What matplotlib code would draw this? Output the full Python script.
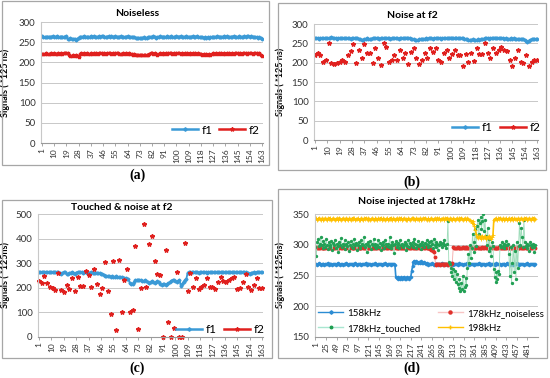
import numpy as np
import matplotlib.pyplot as plt
from matplotlib.patches import Rectangle
from matplotlib.lines import Line2D

plt.rcParams['font.family'] = ['Lato', 'DejaVu Sans']

# ---------------- data ----------------
x163 = np.arange(1, 164)          # sample index, panels a-c
x_odd = np.arange(1, 164, 2)      # every other sample (scattered f2)
x_d = np.arange(1, 500, 2)        # sample index, panel d

a_f1 = [265, 263, 262, 263, 264, 264, 263, 264, 265, 264,
        264, 265, 264, 263, 264, 264, 263, 264, 265, 258,
        259, 260, 258, 257, 259, 256, 258, 261, 264, 263,
        264, 265, 263, 264, 264, 263, 265, 264, 265, 264,
        263, 264, 265, 264, 266, 265, 264, 263, 264, 265,
        264, 265, 264, 264, 265, 264, 263, 264, 265, 264,
        264, 263, 264, 265, 264, 263, 264, 263, 262, 261,
        260, 261, 261, 260, 261, 262, 261, 261, 262, 263,
        264, 262, 265, 264, 261, 262, 264, 265, 263, 264,
        264, 263, 265, 264, 264, 265, 264, 263, 264, 265,
        264, 264, 265, 264, 263, 264, 265, 264, 264, 263,
        264, 265, 264, 264, 265, 264, 263, 262, 263, 261,
        262, 261, 262, 261, 262, 263, 264, 263, 264, 265,
        264, 264, 263, 264, 265, 264, 265, 264, 263, 264,
        264, 265, 264, 264, 263, 265, 264, 264, 263, 265,
        264, 265, 266, 264, 265, 263, 264, 262, 263, 261,
        262, 260, 258]
a_f2 = [221, 220, 221, 222, 221, 220, 221, 222, 221, 222,
        221, 220, 222, 221, 222, 221, 222, 223, 222, 223,
        217, 215, 216, 217, 216, 217, 215, 214, 220, 222,
        221, 222, 221, 222, 221, 220, 222, 221, 222, 221,
        222, 221, 222, 223, 222, 221, 222, 221, 222, 223,
        222, 221, 222, 221, 222, 223, 222, 221, 220, 221,
        222, 221, 222, 221, 222, 221, 220, 219, 220, 218,
        217, 218, 219, 218, 217, 218, 219, 218, 219, 220,
        222, 224, 221, 222, 221, 219, 220, 222, 221, 222,
        221, 222, 221, 222, 223, 222, 221, 222, 221, 222,
        223, 222, 221, 222, 221, 222, 221, 222, 221, 222,
        221, 222, 221, 222, 221, 222, 221, 220, 219, 220,
        219, 220, 219, 220, 219, 220, 222, 221, 222, 221,
        222, 221, 222, 221, 222, 221, 222, 221, 222, 221,
        222, 221, 222, 223, 222, 221, 222, 221, 222, 223,
        222, 221, 222, 223, 222, 221, 222, 223, 222, 221,
        222, 219, 215]

b_f1 = [263, 264, 263, 262, 263, 264, 263, 264, 263, 264,
        263, 264, 266, 265, 264, 263, 262, 263, 264, 263,
        264, 263, 264, 263, 264, 263, 262, 263, 264, 263,
        264, 263, 262, 261, 259, 258, 260, 262, 263, 262,
        261, 262, 263, 264, 263, 264, 263, 262, 263, 264,
        263, 264, 263, 264, 263, 262, 263, 264, 263, 264,
        263, 262, 264, 263, 264, 263, 264, 265, 264, 263,
        262, 261, 260, 259, 258, 259, 260, 261, 262, 261,
        262, 263, 262, 263, 264, 263, 262, 263, 264, 263,
        264, 263, 262, 263, 264, 263, 264, 263, 264, 265,
        264, 263, 264, 265, 264, 263, 264, 263, 264, 262,
        261, 260, 259, 258, 259, 260, 259, 258, 259, 260,
        259, 260, 261, 262, 263, 264, 263, 262, 264, 263,
        264, 265, 264, 263, 264, 263, 264, 263, 262, 263,
        262, 261, 262, 263, 262, 263, 262, 261, 262, 261,
        262, 261, 260, 258, 256, 254, 257, 259, 260, 261,
        262, 261, 262]
b_f2 = [220, 224, 220, 202, 208, 252, 198, 197, 198, 202,
        207, 202, 220, 231, 247, 198, 234, 211, 249, 224,
        224, 200, 237, 213, 194, 252, 241, 201, 207, 220,
        208, 232, 212, 224, 197, 228, 239, 213, 197, 207,
        226, 212, 237, 228, 239, 207, 202, 226, 234, 212,
        222, 232, 220, 220, 192, 222, 202, 224, 205, 237,
        222, 222, 250, 224, 213, 237, 226, 234, 241, 234,
        231, 208, 192, 211, 234, 202, 198, 220, 192, 202,
        208, 207]

c_f1 = [263, 264, 263, 264, 263, 264, 263, 264, 263, 264,
        263, 264, 263, 264, 263, 262, 255, 260, 264, 263,
        256, 255, 260, 262, 263, 262, 258, 262, 264, 263,
        264, 263, 262, 264, 263, 262, 261, 262, 263, 262,
        262, 261, 262, 260, 259, 258, 257, 254, 250, 248,
        248, 246, 245, 247, 244, 245, 246, 244, 243, 242,
        243, 240, 239, 238, 237, 236, 218, 216, 217, 222,
        230, 232, 233, 230, 231, 229, 228, 231, 226, 224,
        220, 223, 228, 222, 218, 224, 226, 222, 216, 212,
        215, 217, 213, 216, 218, 222, 228, 232, 230, 226,
        224, 228, 232, 208, 215, 225, 230, 235, 262, 263,
        264, 263, 264, 263, 264, 263, 262, 263, 264, 263,
        264, 263, 262, 263, 264, 263, 264, 263, 264, 265,
        264, 263, 264, 263, 264, 263, 264, 265, 264, 263,
        264, 263, 264, 265, 264, 263, 264, 263, 264, 263,
        264, 262, 260, 257, 259, 262, 263, 262, 264, 263,
        264, 265, 264]
c_f2 = [228, 220, 250, 218, 205, 198, 192, 262, 190, 182,
        212, 195, 238, 185, 242, 208, 207, 270, 252, 205,
        278, 215, 175, 200, 305, 185, 95, 308, 30, 312,
        103, 230, 278, 102, 110, 368, 32, 200, 458, 202,
        380, 412, 308, 258, 252, 0, 352, 62, 0, 38,
        265, 0, 0, 382, 188, 260, 205, 240, 195, 205,
        212, 240, 205, 205, 195, 225, 242, 228, 222, 232,
        238, 245, 195, 200, 225, 255, 205, 190, 210, 238,
        198, 198]

d_158 = [268, 269, 267, 268, 270, 268, 267, 269, 268, 268,
         267, 269, 268, 268, 270, 267, 268, 269, 268, 267,
         268, 269, 268, 267, 268, 270, 268, 269, 267, 268,
         268, 267, 269, 268, 268, 270, 268, 267, 268, 269,
         268, 268, 267, 269, 268, 270, 268, 267, 268, 268,
         269, 268, 267, 268, 269, 268, 268, 270, 267, 268,
         268, 269, 268, 267, 268, 268, 269, 268, 270, 268,
         267, 268, 269, 268, 268, 267, 269, 268, 268, 270,
         268, 267, 268, 269, 268, 268, 267, 269, 268, 268, 267,
         248, 246, 245, 247, 246, 244, 247, 245, 246, 248,
         245, 246, 244, 247, 246, 245, 247, 248,
         258, 265,
         272, 274, 271, 273, 272, 270, 272, 271, 273, 272,
         270, 271, 272, 270, 269, 270,
         268, 267, 269, 268, 268, 270, 268, 267, 268, 269,
         268, 268, 267, 269, 268, 268, 270, 267, 268, 268,
         269, 268, 267, 268, 268, 269, 268, 270, 268, 267,
         268, 269, 268, 268, 267, 268, 270, 268, 269, 268,
         267, 268, 268, 269, 268, 270, 268, 267, 268, 268,
         269, 268, 268, 267, 268, 269, 268, 268, 270, 268,
         267, 268, 269, 268, 268, 267, 268, 269, 268, 270,
         268, 267, 268, 268, 269, 268, 267, 268, 270, 268,
         268, 269, 268, 267, 268, 268, 269, 268, 267, 268,
         270, 268, 268, 267, 269, 268, 268, 267, 268, 269,
         268, 270, 268, 267, 268, 268, 269, 268, 268, 267,
         268, 269, 268, 270, 268, 267, 268, 268, 269, 268,
         267, 268, 268]
d_178 = [295, 296, 295, 294, 295, 295, 296, 295, 294, 295,
         295, 294, 296, 295, 295, 294, 295, 296, 295, 295,
         294, 295, 295, 296, 295, 294, 295, 295, 296, 295,
         295, 296, 294, 295, 295, 295, 296, 295, 294, 295,
         296, 295, 295, 294, 295, 296, 295, 295, 294, 295,
         295, 294, 295, 296, 295, 295, 294, 295, 296, 295,
         294, 295, 296, 295, 295, 294, 295, 295, 296, 295,
         295, 296, 295, 294, 295, 295, 296, 295, 294, 296,
         295, 295, 294, 296, 295, 295, 294, 295, 296, 295,
         296, 295, 295, 294, 295, 296, 295, 294, 295, 295,
         295, 294, 296, 295, 295, 296, 295, 294, 295, 296,
         295, 296, 295, 294, 295, 295, 296, 295, 294, 295,
         294, 295, 296, 295, 295, 296, 294, 295, 295, 294,
         293, 292, 291, 290, 289, 280,
         268, 267, 268, 269, 268, 267, 268, 268, 269, 268,
         267, 268, 268, 269, 267, 268, 268, 269, 268, 270,
         296, 295, 295, 294, 295, 296, 295, 295, 294, 295,
         295, 296, 294, 295, 295, 296, 295, 294, 295, 295,
         294, 295, 296, 295, 295, 294, 295, 296, 295, 295,
         295, 294, 295, 296, 295, 295, 296, 294, 295, 295,
         296, 295, 294, 295, 295, 296, 295, 295, 294, 295,
         295, 295, 296, 294, 295, 295, 294, 296, 295, 295,
         294, 296, 295, 295, 294, 295, 296, 295, 295, 294,
         295, 295, 294, 296, 295, 295, 296, 295, 294, 295,
         295, 296, 295, 294, 295, 296, 295, 295, 294, 295,
         296, 295, 295, 294]
d_touched = [297, 281, 305, 310, 298, 302, 312, 300, 295, 306,
             301, 296, 309, 299, 293, 304, 300, 297, 306, 291,
             303, 299, 308, 295, 302, 298, 289, 305, 300, 311,
             296, 302, 299, 307, 293, 301, 298, 304, 290, 300,
             306, 297, 301, 295, 309, 299, 303, 292, 300, 305,
             298, 294, 307, 301, 299, 312, 296, 302, 289, 300,
             304, 298, 306, 293, 301, 299, 310, 297, 302, 295,
             300, 308, 296, 303, 291, 299, 305, 300, 294, 307,
             302, 298, 301, 296, 313, 300, 295, 304, 299, 286,
             301, 306, 297, 300, 303, 295, 308, 299, 302, 296,
             300, 305, 292, 301, 298, 307, 296, 303, 300, 299,
             304, 297, 309, 301, 295, 300, 306, 298, 302, 293,
             300, 305, 299, 296, 303, 301, 308, 297, 300, 304,
             298, 306, 301, 295, 310, 300, 304, 297, 302, 292,
             299, 305, 301, 296, 303, 299, 307, 300, 295, 302,
             338, 272,
             268, 262, 255, 250, 260, 245, 258, 240, 252, 236,
             230, 245, 225, 238, 228, 250, 224, 232, 246, 235,
             262, 285, 270, 300, 278, 295, 318, 288, 305, 325, 298,
             330, 340, 318, 335, 345, 325, 338, 350, 322, 340,
             315, 300, 328, 290, 310, 295, 282, 305, 298, 260,
             248, 240, 255, 245, 258, 252,
             300, 296, 304, 298, 302, 295, 300, 306, 299, 301,
             285, 250, 296, 238, 270, 300, 255, 290, 245, 305, 262, 298,
             335, 300, 328, 312, 296, 340, 305, 298,
             295, 302, 299, 290, 304, 300, 296, 301, 297, 288, 300]
d_198 = [342, 343, 341, 342, 344, 342, 341, 343, 342, 340,
         342, 343, 342, 341, 343, 342, 344, 342, 341, 342,
         343, 342, 340, 342, 343, 341, 342, 344, 342, 341,
         342, 343, 342, 341, 342, 343, 342, 340, 343, 342,
         341, 342, 344, 342, 343, 341, 342, 342, 343, 341,
         342, 340, 343, 342, 341, 343, 342, 344, 342, 341,
         343, 342, 341, 342, 343, 342, 340, 342, 343, 342,
         341, 343, 342, 342, 344, 341, 342, 343, 342, 341,
         342, 343, 341, 342, 342, 344, 342, 341, 343, 342,
         340, 342, 343, 341, 342, 343, 342, 344, 341, 342,
         343, 342, 341, 342, 340, 343, 342, 341, 342, 343,
         342, 344, 342, 341, 343, 342, 342, 341, 343, 342,
         341, 342, 343, 342, 344, 342, 341, 342, 343, 341,
         342, 343, 342, 340, 342, 343, 341, 342, 344, 342,
         343, 341, 342, 342, 343, 342, 341, 343, 342, 344,
         342, 341, 343, 342, 342, 341, 343, 342, 340, 342,
         343, 342, 341, 343, 342, 344, 342, 341, 342, 343,
         342, 341, 343, 342, 340,
         340, 338, 336, 339, 334,
         330, 324, 318,
         313, 311, 314, 312, 310, 313, 315, 311, 312, 314,
         310, 312, 313, 311, 314, 312, 310, 313, 316,
         341, 342, 343, 342, 341, 343, 342, 344, 342, 341,
         343, 342, 341, 342, 343, 340, 342, 343, 341, 342,
         344, 342, 341, 343, 342, 342, 341, 343, 342, 340,
         342, 343, 342, 341, 343, 342, 344, 342, 341, 342,
         343, 342, 341, 343, 342, 344, 341, 342]

ticks_abc = list(range(1, 164, 9))
ticks_d = list(range(1, 482, 24))

# ---------------- figure ----------------
W, H = 550, 378
fig = plt.figure(figsize=(5.5, 3.78), dpi=100)


def rect(x0, y0, x1, y1):
    return [x0 / W, 1 - y1 / H, (x1 - x0) / W, (y1 - y0) / H]


# panel borders
for b in [(2, 1, 269, 165), (278, 3, 546, 170), (2, 200, 272, 358), (278, 189, 547, 358)]:
    r = rect(*b)
    fig.add_artist(Rectangle((r[0], r[1]), r[2], r[3], transform=fig.transFigure,
                             fill=False, edgecolor='#A6A6A6', lw=0.9))

ax_a = fig.add_axes(rect(41, 22, 263, 143))
ax_b = fig.add_axes(rect(314, 24, 538, 140))
ax_c = fig.add_axes(rect(38, 214, 263, 337))
ax_d = fig.add_axes(rect(315, 214, 538, 337))

BLUE = '#3B9AD6'
RED = '#E0201E'


def style(ax, ylim, yticks, xlim, xticks, ylabel, labx):
    ax.set_xlim(*xlim)
    ax.set_ylim(*ylim)
    ax.set_yticks(yticks)
    ax.set_xticks(xticks)
    ax.set_xticklabels([str(t) for t in xticks], rotation=90)
    ax.tick_params(axis='y', length=0, labelsize=7, pad=4, colors='#333333')
    ax.tick_params(axis='x', length=2.5, width=0.6, color='#999999', labelsize=6,
                   pad=1.5, labelcolor='#333333')
    for s in ['top', 'right']:
        ax.spines[s].set_visible(False)
    ax.spines['left'].set_color('#C8C8C8')
    ax.spines['bottom'].set_color('#9A9A9A')
    ax.grid(axis='y', color='#C8C8C8', lw=0.7)
    ax.set_axisbelow(True)
    ax.set_ylabel(ylabel, fontsize=6.5, fontweight='bold')
    ax.yaxis.set_label_coords(labx, 0.5)


def f_legend(ax, x, y):
    h1 = Line2D([], [], color=BLUE, lw=1.8, marker='D', ms=1.8)
    h2 = Line2D([], [], color=RED, lw=1.8, marker='*', ms=3)
    ax.legend([h1, h2], ['f1', 'f2'], ncol=2, loc='center right',
              bbox_to_anchor=(x, y), frameon=False, fontsize=8.5,
              handlelength=2.2, handletextpad=0.3, columnspacing=0.6,
              borderpad=0, borderaxespad=0)


# (a) Noiseless
ax_a.plot(x163, a_f1, color=BLUE, lw=1.3, marker='D', ms=1.5)
ax_a.plot(x163, a_f2, color=RED, lw=1.3, marker='*', ms=2.5)
style(ax_a, (0, 300), range(0, 301, 50), (0.3, 163.7), ticks_abc,
      'Signals ( *125 ns)', -0.14)
f_legend(ax_a, 0.985, 0.107)

# (b) Noise at f2
ax_b.plot(x163, b_f1, color=BLUE, lw=1.3, marker='D', ms=1.5)
ax_b.plot(x_odd, b_f2, color=RED, lw=0, marker='*', ms=3.2)
style(ax_b, (0, 300), range(0, 301, 50), (0.3, 163.7), ticks_abc,
      'Signals ( *125 ns)', -0.13)
f_legend(ax_b, 1.01, 0.105)

# (c) Touched & noise at f2
ax_c.plot(x163, c_f1, color=BLUE, lw=1.3, marker='D', ms=1.5)
ax_c.plot(x_odd, c_f2, color=RED, lw=0, marker='*', ms=3.2, clip_on=False)
style(ax_c, (0, 500), range(0, 501, 100), (0.3, 163.7), ticks_abc,
      'Signals ( *125ns)', -0.124)
f_legend(ax_c, 1.005, 0.057)

# (d) Noise injected at 178kHz
ax_d.plot(x_d, d_158, color='#2B8CD3', lw=1.2, marker='D', ms=1.3)
ax_d.plot(x_d, d_178, color='#F4A6A6', lw=0.6, marker='o', ms=1.8,
          mfc='#E0302A', mec='#E0302A')
ax_d.plot(x_d, d_touched, color='#9EDCBA', lw=0.6, marker='o', ms=1.4,
          mfc='#22A055', mec='#22A055')
ax_d.plot(x_d, d_198, color='#FFC000', lw=1.2, marker='+', ms=2.5, mew=0.6)
style(ax_d, (150, 350), range(150, 351, 50), (0.0, 505), ticks_d,
      'Signals ( *125ns)', -0.135)
hd1 = [Line2D([], [], color='#2B8CD3', lw=1.0, marker='D', ms=1.8),
       Line2D([], [], color='#A8E6D0', lw=1.0, marker='o', ms=1.8, mfc='#1E9E50', mec='#1E9E50')]
hd2 = [Line2D([], [], color='#F8C4C4', lw=1.0, marker='o', ms=2.2, mfc='#E0302A', mec='#E0302A'),
       Line2D([], [], color='#FFC000', lw=1.0, marker='+', ms=3)]
kw = dict(loc='lower left', frameon=False, fontsize=7, handlelength=2.6,
          handletextpad=0.4, borderpad=0, borderaxespad=0, labelspacing=0.6)
leg1 = ax_d.legend(hd1, ['158kHz', '178kHz_touched'], bbox_to_anchor=(0.013, 0.035), **kw)
ax_d.add_artist(leg1)
ax_d.legend(hd2, ['178kHz_noiseless', '198kHz'], bbox_to_anchor=(0.55, 0.035), **kw)

# titles
fig.text(137 / W, 1 - 13 / H, 'Noiseless', ha='center', va='center', fontsize=7.5, fontweight='bold')
fig.text(412 / W, 1 - 15 / H, 'Noise at f2', ha='center', va='center', fontsize=7.5, fontweight='bold')
fig.text(122 / W, 1 - 208 / H, 'Touched & noise at f2', ha='center', va='center', fontsize=7.5, fontweight='bold')
fig.text(417 / W, 1 - 201 / H, 'Noise injected at 178kHz', ha='center', va='center', fontsize=7.5, fontweight='bold')

# panel captions
for lab, x, y in [('(a)', 137, 175), ('(b)', 412, 182), ('(c)', 137, 368), ('(d)', 412, 368)]:
    fig.text(x / W, 1 - y / H, lab, ha='center', va='center', fontsize=10,
             family=['Liberation Serif', 'DejaVu Serif'], fontweight='bold')

fig.savefig('out.png', dpi=100)
